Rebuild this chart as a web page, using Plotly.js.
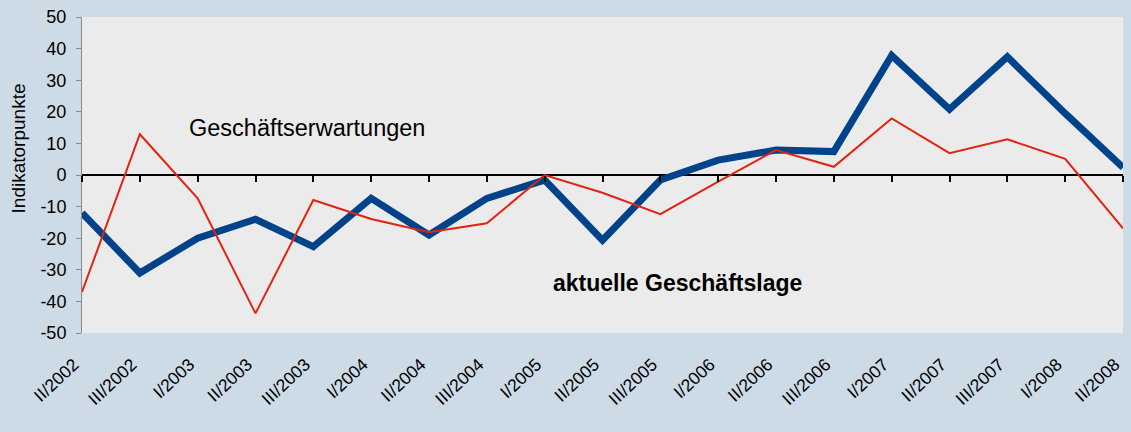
<!DOCTYPE html>
<html>
<head>
<meta charset="utf-8">
<script src="https://cdn.plot.ly/plotly-3.0.1.min.js"></script>
<style>
    html, body { margin: 0; padding: 0; background: #cddbe7; }
    #chart { width: 1131px; height: 432px; }
</style>
</head>
<body>
<div id="chart"></div>
<script>
// quarters on the category axis
let quarters = ['II/2002', 'III/2002', 'I/2003', 'II/2003', 'III/2003', 'I/2004', 'II/2004',
    'III/2004', 'I/2005', 'II/2005', 'III/2005', 'I/2006', 'II/2006', 'III/2006',
    'I/2007', 'II/2007', 'III/2007', 'I/2008', 'II/2008']

// thick blue line
let geschaeftslage = [-12, -31, -20, -14, -22.7, -7.4, -19, -7.4, -1.6, -20.6, -1.6,
    4.7, 7.9, 7.4, 37.8, 20.8, 37.4, 19.5, 2.4]

// thin red line
let geschaeftserwartungen = [-37, 12.9, -7.4, -43.8, -7.9, -13.9, -18.1, -15.3, 0, -5.6,
    -12.4, -2.1, 7.9, 2.6, 17.9, 6.9, 11.3, 5.1, -16.9]

let yTicks = [-50, -40, -30, -20, -10, 0, 10, 20, 30, 40, 50]

let fontFamily = 'Liberation Sans, Arial, sans-serif'

let traces = [
    {
        x: quarters,
        y: geschaeftslage,
        name: 'aktuelle Geschäftslage',
        type: 'scatter',
        mode: 'lines',
        line: { color: '#00438a', width: 7 },
        hoverinfo: 'x+y'
    },
    {
        // on the overlay axis so it sits above the blue line and carries the zero-line ticks
        x: quarters,
        y: geschaeftserwartungen,
        name: 'Geschäftserwartungen',
        type: 'scatter',
        mode: 'lines',
        xaxis: 'x2',
        line: { color: '#e2230f', width: 2 },
        hoverinfo: 'x+y'
    }
]

let layout = {
    width: 1131,
    height: 432,
    paper_bgcolor: '#cddbe7',
    plot_bgcolor: '#ebebeb',
    margin: { t: 17, b: 99, l: 82, r: 8 },
    showlegend: false,
    font: { family: fontFamily, color: '#000' },
    xaxis: {
        type: 'category',
        categoryarray: quarters,
        range: [0, quarters.length - 1],
        showgrid: false,
        zeroline: false,
        showline: false,
        ticks: '',
        tickangle: -43,
        ticklabelstandoff: 17,
        ticklabelshift: -8,
        tickfont: { size: 17.5, family: fontFamily, color: '#000' },
        fixedrange: true
    },
    xaxis2: {
        type: 'category',
        categoryarray: quarters,
        range: [0, quarters.length - 1],
        overlaying: 'x',
        anchor: 'free',
        position: 0.5,
        side: 'bottom',
        showgrid: false,
        zeroline: false,
        showline: false,
        showticklabels: false,
        ticks: 'outside',
        ticklen: 6,
        tickwidth: 2,
        tickcolor: '#000',
        tickmode: 'array',
        tickvals: quarters,
        fixedrange: true
    },
    yaxis: {
        range: [-50, 50],
        tickmode: 'array',
        tickvals: yTicks,
        // plain hyphen as in the original, not the unicode minus
        ticktext: yTicks.map(v => String(v)),
        showgrid: false,
        zeroline: true,
        zerolinecolor: '#000',
        zerolinewidth: 2,
        showline: true,
        linecolor: '#8a8a8a',
        linewidth: 1,
        ticks: 'outside',
        ticklen: 5,
        tickcolor: '#8a8a8a',
        ticklabelstandoff: 6,
        tickfont: { size: 18, family: fontFamily, color: '#000' },
        fixedrange: true
    },
    annotations: [
        {
            // y title sits above the plot centre in the original, so it is an annotation
            text: 'Indikatorpunkte',
            xref: 'paper', yref: 'paper',
            x: -0.0615, y: 0.584,
            xanchor: 'center', yanchor: 'middle',
            textangle: -90,
            showarrow: false,
            font: { size: 19, family: fontFamily, color: '#000' }
        },
        {
            text: 'Geschäftserwartungen',
            xref: 'paper', yref: 'paper',
            x: 0.216, y: 0.649,
            xanchor: 'center', yanchor: 'middle',
            showarrow: false,
            font: { size: 23.5, family: fontFamily, color: '#000' }
        },
        {
            text: '<b>aktuelle Geschäftslage</b>',
            xref: 'paper', yref: 'paper',
            x: 0.5716, y: 0.158,
            xanchor: 'center', yanchor: 'middle',
            showarrow: false,
            font: { size: 23, family: fontFamily, color: '#000' }
        }
    ]
}

Plotly.newPlot('chart', traces, layout, { displayModeBar: false, staticPlot: true })
</script>
</body>
</html>
